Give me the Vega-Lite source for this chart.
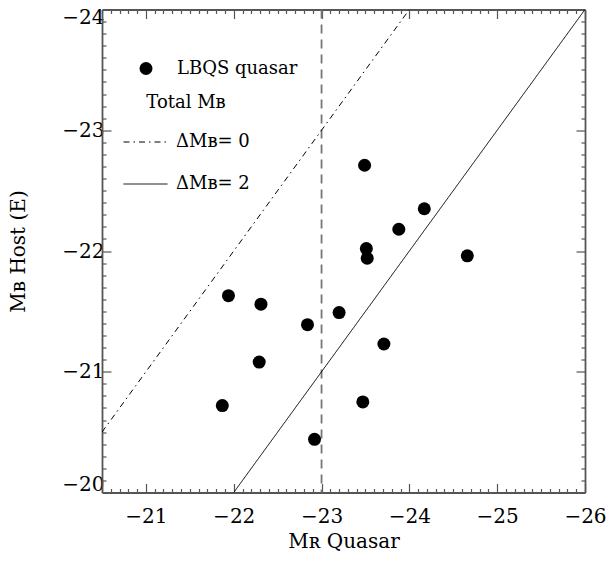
{
  "$schema": "https://vega.github.io/schema/vega-lite/v6.json",
  "width": 483,
  "height": 483,
  "autosize": {"type": "none"},
  "padding": {"left": 102, "top": 9.5, "right": 25, "bottom": 69.5},
  "background": "white",
  "config": {"view": {"stroke": null}, "font": "DejaVu Serif"},
  "datasets": {
    "lines": [
      {"series": "ΔMʙ= 0", "quasar": -20.5, "host": -20.5},
      {"series": "ΔMʙ= 0", "quasar": -24, "host": -24},
      {"series": "ΔMʙ= 2", "quasar": -22, "host": -20},
      {"series": "ΔMʙ= 2", "quasar": -26, "host": -24}
    ],
    "quasars": [
      {"quasar": -23.49, "host": -22.71},
      {"quasar": -24.17, "host": -22.35},
      {"quasar": -23.88, "host": -22.18},
      {"quasar": -23.51, "host": -22.02},
      {"quasar": -23.52, "host": -21.94},
      {"quasar": -24.66, "host": -21.96},
      {"quasar": -21.94, "host": -21.63},
      {"quasar": -22.31, "host": -21.56},
      {"quasar": -23.20, "host": -21.49},
      {"quasar": -22.84, "host": -21.39},
      {"quasar": -23.71, "host": -21.23},
      {"quasar": -22.29, "host": -21.08},
      {"quasar": -21.87, "host": -20.72},
      {"quasar": -23.47, "host": -20.75},
      {"quasar": -22.92, "host": -20.44}
    ],
    "vline": [{"quasar": -23}]
  },
  "resolve": {"scale": {"x": "shared", "y": "shared"}, "axis": {"x": "independent", "y": "independent"}},
  "layer": [
    {
      "data": {"name": "vline"},
      "mark": {"type": "rule", "color": "#777777", "strokeWidth": 1.8, "strokeDash": [9, 6]},
      "encoding": {
        "x": {"field": "quasar", "type": "quantitative", "axis": null,
              "scale": {"domain": [-26, -20.5], "reverse": true, "nice": false, "zero": false}}
      }
    },
    {
      "data": {"name": "lines"},
      "mark": {"type": "line", "color": "black", "strokeWidth": 1, "clip": true},
      "encoding": {
        "x": {"field": "quasar", "type": "quantitative",
              "scale": {"domain": [-26, -20.5], "reverse": true, "nice": false, "zero": false},
              "axis": {
                "orient": "bottom",
                "values": [-20.5,-20.6,-20.7,-20.8,-20.9,-21,-21.1,-21.2,-21.3,-21.4,-21.5,-21.6,-21.7,-21.8,-21.9,-22,-22.1,-22.2,-22.3,-22.4,-22.5,-22.6,-22.7,-22.8,-22.9,-23,-23.1,-23.2,-23.3,-23.4,-23.5,-23.6,-23.7,-23.8,-23.9,-24,-24.1,-24.2,-24.3,-24.4,-24.5,-24.6,-24.7,-24.8,-24.9,-25,-25.1,-25.2,-25.3,-25.4,-25.5,-25.6,-25.7,-25.8,-25.9,-26],
                "labelExpr": "abs(datum.value - round(datum.value)) < 0.001 ? '\u2212' + format(abs(datum.value), 'd') : ''",
                "labelFont": "DejaVu Serif", "labelFontSize": 20, "labelColor": "black",
                "labelPadding": 23, "labelOverlap": false, "labelBound": false, "labelFlush": false,
                "tickSize": {"condition": {"test": "abs(datum.value - round(datum.value)) < 0.001", "value": -9}, "value": -4},
                "tickColor": "#555555", "tickWidth": 1.2,
                "domainColor": "#555555", "domainWidth": 1.8,
                "grid": false,
                "title": "Mʀ Quasar", "titleFont": "DejaVu Serif", "titleFontSize": 20, "titleFontWeight": "normal", "titleColor": "black", "titlePadding": 0
              }},
        "y": {"field": "host", "type": "quantitative",
              "scale": {"domain": [-24, -20], "reverse": true, "nice": false, "zero": false},
              "axis": {
                "orient": "left",
                "values": [-20,-20.1,-20.2,-20.3,-20.4,-20.5,-20.6,-20.7,-20.8,-20.9,-21,-21.1,-21.2,-21.3,-21.4,-21.5,-21.6,-21.7,-21.8,-21.9,-22,-22.1,-22.2,-22.3,-22.4,-22.5,-22.6,-22.7,-22.8,-22.9,-23,-23.1,-23.2,-23.3,-23.4,-23.5,-23.6,-23.7,-23.8,-23.9,-24],
                "labelExpr": "abs(datum.value - round(datum.value)) < 0.001 ? '\u2212' + format(abs(datum.value), 'd') : ''",
                "labelFont": "DejaVu Serif", "labelFontSize": 20, "labelColor": "black",
                "labelPadding": 7, "labelOverlap": false, "labelBound": false, "labelFlush": true, "labelFlushOffset": 2,
                "tickSize": {"condition": {"test": "abs(datum.value - round(datum.value)) < 0.001", "value": -9}, "value": -4},
                "tickColor": "#555555", "tickWidth": 1.2,
                "domainColor": "#555555", "domainWidth": 1.8,
                "grid": false,
                "title": "Mʙ Host (E)", "titleFont": "DejaVu Serif", "titleFontSize": 20, "titleFontWeight": "normal", "titleColor": "black", "titlePadding": 33
              }},
        "strokeDash": {"field": "series", "type": "nominal",
              "scale": {"domain": ["ΔMʙ= 0", "ΔMʙ= 2"], "range": [[6, 4, 1.5, 4], [1, 0]]},
              "legend": {
                "orient": "none", "legendX": 21, "legendY": 84, "padding": 0,
                "title": "Total Mʙ", "titleFont": "DejaVu Serif", "titleFontSize": 18, "titleFontWeight": "normal", "titleColor": "black", "titleAnchor": "middle", "titlePadding": 8,
                "symbolType": "stroke", "symbolSize": 1936, "symbolStrokeColor": "black", "symbolStrokeWidth": 1,
                "labelFont": "DejaVu Serif", "labelFontSize": 18, "labelColor": "black", "labelOffset": 8, "rowPadding": 10
              }}
      }
    },
    {
      "data": {"name": "quasars"},
      "mark": {"type": "point", "filled": true, "color": "black", "size": 169, "opacity": 1},
      "encoding": {
        "x": {"field": "quasar", "type": "quantitative",
              "scale": {"domain": [-26, -20.5], "reverse": true, "nice": false, "zero": false},
              "axis": {
                "orient": "top",
                "values": [-20.5,-20.6,-20.7,-20.8,-20.9,-21,-21.1,-21.2,-21.3,-21.4,-21.5,-21.6,-21.7,-21.8,-21.9,-22,-22.1,-22.2,-22.3,-22.4,-22.5,-22.6,-22.7,-22.8,-22.9,-23,-23.1,-23.2,-23.3,-23.4,-23.5,-23.6,-23.7,-23.8,-23.9,-24,-24.1,-24.2,-24.3,-24.4,-24.5,-24.6,-24.7,-24.8,-24.9,-25,-25.1,-25.2,-25.3,-25.4,-25.5,-25.6,-25.7,-25.8,-25.9,-26],
                "labels": false,
                "tickSize": {"condition": {"test": "abs(datum.value - round(datum.value)) < 0.001", "value": -9}, "value": -4},
                "tickColor": "#555555", "tickWidth": 1.2,
                "domainColor": "#555555", "domainWidth": 1.8,
                "grid": false, "title": null
              }},
        "y": {"field": "host", "type": "quantitative",
              "scale": {"domain": [-24, -20], "reverse": true, "nice": false, "zero": false},
              "axis": {
                "orient": "right",
                "values": [-20,-20.1,-20.2,-20.3,-20.4,-20.5,-20.6,-20.7,-20.8,-20.9,-21,-21.1,-21.2,-21.3,-21.4,-21.5,-21.6,-21.7,-21.8,-21.9,-22,-22.1,-22.2,-22.3,-22.4,-22.5,-22.6,-22.7,-22.8,-22.9,-23,-23.1,-23.2,-23.3,-23.4,-23.5,-23.6,-23.7,-23.8,-23.9,-24],
                "labels": false,
                "tickSize": {"condition": {"test": "abs(datum.value - round(datum.value)) < 0.001", "value": -9}, "value": -4},
                "tickColor": "#555555", "tickWidth": 1.2,
                "domainColor": "#555555", "domainWidth": 1.8,
                "grid": false, "title": null
              }},
        "shape": {"datum": "LBQS quasar", "type": "nominal",
              "scale": {"domain": ["LBQS quasar"], "range": ["circle"]},
              "legend": {
                "orient": "none", "legendX": 35, "legendY": 50, "padding": 0, "title": null,
                "symbolSize": 169, "symbolFillColor": "black", "symbolStrokeColor": "black", "symbolStrokeWidth": 0,
                "labelFont": "DejaVu Serif", "labelFontSize": 18, "labelColor": "black", "labelOffset": 22
              }}
      }
    }
  ]
}
